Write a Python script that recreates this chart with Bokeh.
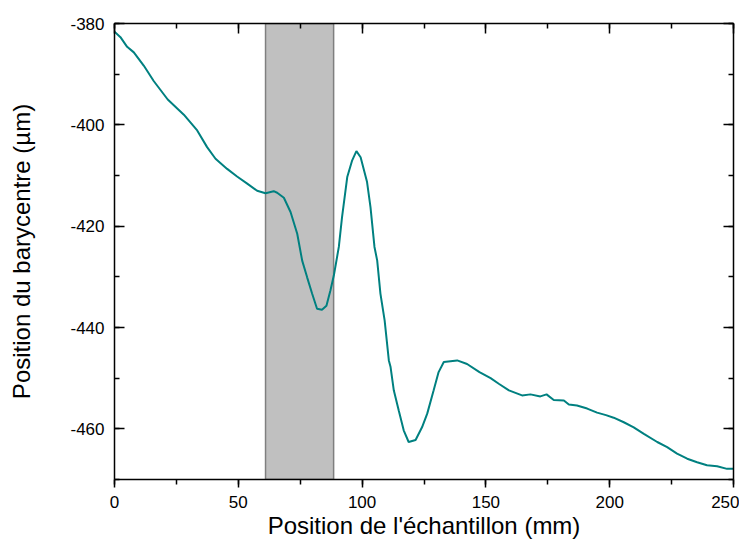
from bokeh.plotting import figure
from bokeh.models import LinearAxis, SingleIntervalTicker, Range1d, ColumnDataSource, CustomJSTickFormatter
from bokeh.embed import file_html
from bokeh.resources import INLINE

# ---- data ----
pos_mm = [0, 2.4, 5.1, 7.8, 11.8, 15.9, 21.5, 28.0, 33.4, 37.4, 40.8, 45.5, 49.5,
          53.6, 57.6, 61.0, 64.3, 65.7, 68.4, 71.1, 73.8, 75.8, 77.8, 79.8, 81.8,
          83.8, 85.6, 87.2, 88.6, 90.6, 91.9, 94.0, 96.0, 97.7, 99.4, 102.0, 103.4,
          105.0, 106.1, 107.4, 109.1, 110.8, 111.5, 112.8, 114.8, 116.8, 118.8,
          121.6, 124.2, 126.3, 128.9, 130.9, 133.0, 138.4, 142.4, 147.4, 151.9,
          155.2, 159.3, 164.6, 168.0, 172.0, 174.5, 177.4, 181.5, 183.5, 186.8,
          190.9, 194.9, 198.5, 201.6, 205.7, 209.7, 213.8, 219.2, 223.2, 227.2,
          231.3, 235.3, 239.3, 243.4, 247.4, 250.0]
bary_um = [-381.6, -382.7, -384.6, -385.7, -388.3, -391.4, -395.0, -398.0, -401.1,
           -404.4, -406.7, -408.7, -410.2, -411.6, -413.0, -413.5, -413.1, -413.4,
           -414.4, -417.2, -421.5, -426.8, -430.1, -433.3, -436.3, -436.5, -435.7,
           -432.7, -429.7, -424.1, -418.2, -410.3, -407.0, -405.2, -406.4, -411.3,
           -416.3, -424.1, -426.8, -433.3, -438.6, -446.5, -447.8, -452.4, -456.4,
           -460.3, -462.6, -462.2, -459.7, -457.0, -452.4, -448.8, -446.8, -446.5,
           -447.2, -448.8, -450.0, -451.1, -452.4, -453.4, -453.2, -453.6, -453.2,
           -454.3, -454.4, -455.2, -455.4, -456.0, -456.8, -457.3, -457.8, -458.7,
           -459.7, -461.0, -462.6, -463.6, -464.9, -465.9, -466.6, -467.2, -467.4,
           -467.9, -467.9]
band_start = [61.0]
band_end = [88.5]
x_lim = (0, 250)
y_lim = (-470, -380)

FONT = "Liberation Sans"

p = figure(width=739, height=543, output_backend="svg", toolbar_location=None,
           x_range=Range1d(*x_lim), y_range=Range1d(*y_lim),
           min_border_left=114, min_border_top=23, min_border_right=6,
           min_border_bottom=64, x_axis_location=None, y_axis_location=None)
p.grid.visible = False
p.outline_line_color = None
p.background_fill_color = "white"
p.border_fill_color = "white"

# shaded band
p.quad(left=band_start, right=band_end, bottom=[y_lim[0]], top=[y_lim[1]],
       fill_color="#C0C0C0", line_color="#7F7F7F", line_width=1.5)

src = ColumnDataSource(dict(x=pos_mm, y=bary_um))
p.line("x", "y", source=src, line_color="#008080", line_width=2)

plain_fmt = "return tick.toFixed(0);"
empty_fmt = "return '';"


def style(ax, show_labels):
    ax.axis_line_color = "black"
    ax.axis_line_width = 1.5
    ax.major_tick_line_color = "black"
    ax.minor_tick_line_color = "black"
    ax.major_tick_line_width = 1.5
    ax.minor_tick_line_width = 1.5
    if show_labels:
        ax.formatter = CustomJSTickFormatter(code=plain_fmt)
        ax.major_label_text_font = FONT
        ax.major_label_text_font_size = "17px"
        ax.major_label_text_color = "black"
        ax.axis_label_text_font = FONT
        ax.axis_label_text_font_size = "24px"
        ax.axis_label_text_font_style = "normal"
        ax.axis_label_text_color = "black"
    else:
        ax.formatter = CustomJSTickFormatter(code=empty_fmt)
        ax.major_label_text_font_size = "6px"
        ax.major_label_standoff = 0


xt = lambda: SingleIntervalTicker(interval=50, num_minor_ticks=2)
yt = lambda: SingleIntervalTicker(interval=20, num_minor_ticks=2)

bottom = LinearAxis(ticker=xt(), axis_label="Position de l'échantillon (mm)")
style(bottom, True)
bottom.major_tick_in = 0
bottom.major_tick_out = 8
bottom.minor_tick_in = 0
bottom.minor_tick_out = 5
bottom.major_label_standoff = 8
bottom.axis_label_standoff = 1
p.add_layout(bottom, "below")

left = LinearAxis(ticker=yt(), axis_label="Position du barycentre (µm)")
style(left, True)
left.major_tick_in = 10
left.major_tick_out = 0
left.minor_tick_in = 5
left.minor_tick_out = 0
left.major_label_standoff = 10
left.axis_label_standoff = 32
p.add_layout(left, "left")

top = LinearAxis(ticker=xt())
style(top, False)
top.major_tick_in = 10
top.major_tick_out = 0
top.minor_tick_in = 5
top.minor_tick_out = 0
p.add_layout(top, "above")

right = LinearAxis(ticker=yt())
style(right, False)
right.major_tick_in = 10
right.major_tick_out = 0
right.minor_tick_in = 5
right.minor_tick_out = 0
p.add_layout(right, "right")

open("out.html", "w").write(file_html(p, INLINE))
